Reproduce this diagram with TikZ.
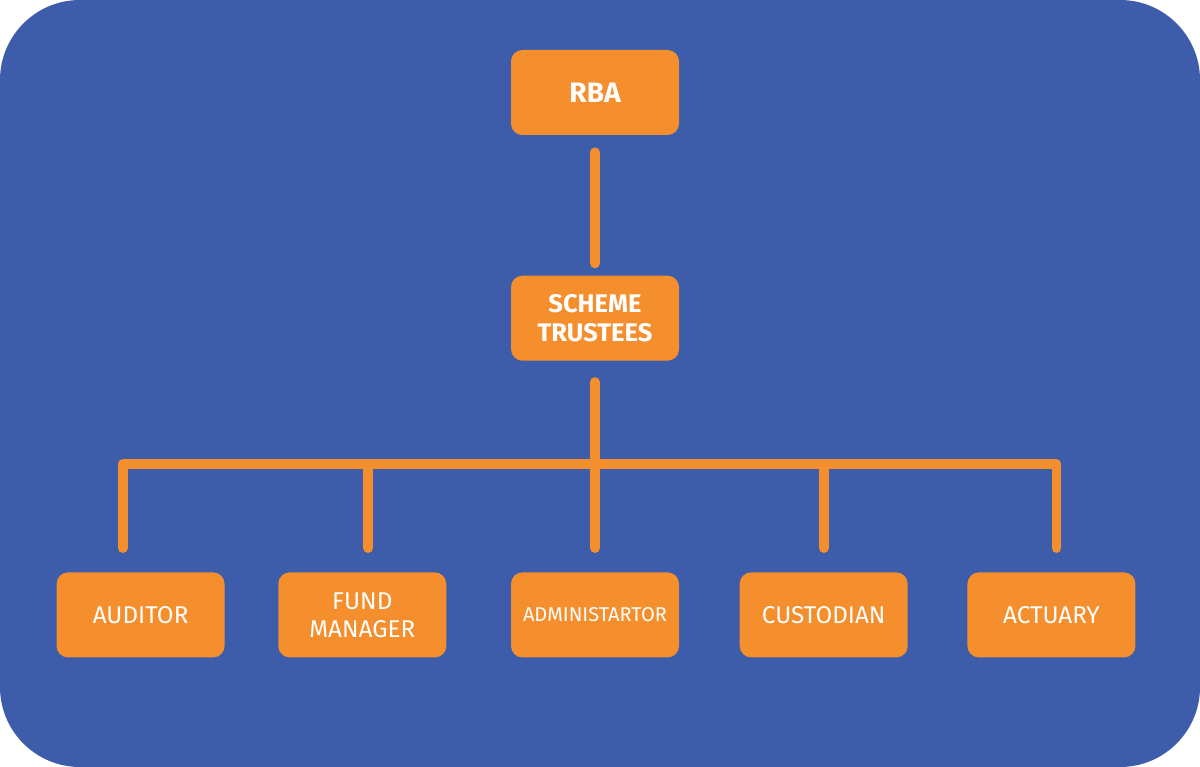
\documentclass[tikz,border=0pt]{standalone}
\usepackage{fontspec}
\setmainfont{Fira Sans}
\definecolor{schemeblue}{RGB}{61, 92, 170}
\definecolor{schemeorange}{RGB}{245, 142, 44}
\usetikzlibrary{positioning}
\tikzset{
	unit/.style={rectangle, rounded corners=6.5pt, fill=schemeorange, text=white, align=center, minimum width=3.36cm, minimum height=1.7cm, inner sep=2pt, font=\fontsize{13.8}{16}\selectfont},
	topunit/.style={unit, font=\fontsize{16}{18}\selectfont\bfseries},
	boldunit/.style={unit, font=\fontsize{14.5}{16}\selectfont\bfseries},
	smallunit/.style={unit, font=\fontsize{11.4}{13}\selectfont},
	link/.style={draw=schemeorange, line width=5.6pt, line cap=round, line join=round},
}

\begin{document}
\begin{tikzpicture}
		\useasboundingbox (0,0) rectangle (24,-15.34);
		\fill[schemeblue] (0,0) [rounded corners=1.6cm] rectangle (24,-15.34);
		\node[topunit] (rba) at (11.9,-1.85) {RBA};
		\node[boldunit, below=2.8cm of rba] (trustees) {SCHEME\\TRUSTEES};
		\node[smallunit, below=4.22cm of trustees] (admin) {ADMINISTARTOR};
		\node[unit, left=1.28cm of admin] (fund) {FUND\\MANAGER};
		\node[unit, left=1.06cm of fund] (auditor) {AUDITOR};
		\node[unit, right=1.2cm of admin] (custodian) {CUSTODIAN};
		\node[unit, right=1.18cm of custodian] (actuary) {ACTUARY};
		\coordinate[below=2.06cm of trustees.south] (bar);
		\draw[link, shorten <=0.34cm, shorten >=0.24cm] (rba) -- (trustees);
		\draw[link, shorten <=0.42cm, shorten >=0.48cm] (trustees) -- (admin);
		\draw[link, shorten <=0.48cm, shorten >=0.48cm] ([xshift=-0.36cm]auditor.north) |- (bar) -| ([xshift=0.1cm]actuary.north);
		\draw[link, shorten >=0.48cm] ([xshift=0.12cm]fund.north |- bar) -- ([xshift=0.12cm]fund.north);
		\draw[link, shorten >=0.48cm] (custodian.north |- bar) -- (custodian.north);
	\end{tikzpicture}
\end{document}
